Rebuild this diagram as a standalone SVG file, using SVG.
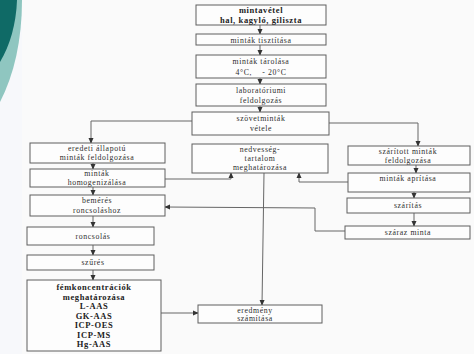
<svg xmlns="http://www.w3.org/2000/svg" width="474" height="354" viewBox="0 0 474 354">
<style>
.box{fill:#fdfdfd;stroke:#5e5e5e;stroke-width:1}
.t{font-family:"Liberation Serif",serif;font-size:7.8px;fill:#2e2e2e;text-anchor:middle;letter-spacing:0.6px}
.b{font-weight:bold;font-size:8.5px;fill:#222}
.ln{fill:none;stroke:#666;stroke-width:1}
</style>
<defs>
<marker id="ar" viewBox="0 0 8 8" refX="7" refY="4" markerWidth="6" markerHeight="6" orient="auto" markerUnits="userSpaceOnUse">
<path d="M0,0.5 L8,4 L0,7.5 Z" fill="#333"/>
</marker>
</defs>
<rect width="474" height="354" fill="#f7f8fb"/>
<rect x="22" y="0" width="452" height="354" fill="#fafafa"/>
<path d="M0,0 L22,0 C22,40 14,75 0,102 Z" fill="#8fc6c0"/>
<path d="M0,0 L17,0 C16,25 10,45 0,62 Z" fill="#0f6a66"/>

<g id="connectors" class="ln">
<line x1="260" y1="25" x2="260" y2="34" marker-end="url(#ar)"/>
<line x1="260" y1="45" x2="260" y2="55" marker-end="url(#ar)"/>
<line x1="260" y1="78" x2="260" y2="84" marker-end="url(#ar)"/>
<line x1="260" y1="106" x2="260" y2="112" marker-end="url(#ar)"/>
<polyline points="192,121 91,121 91,143" marker-end="url(#ar)"/>
<polyline points="329,123 418,123 418,146" marker-end="url(#ar)"/>
<line x1="93" y1="163" x2="93" y2="169" marker-end="url(#ar)"/>
<line x1="93" y1="187" x2="93" y2="195" marker-end="url(#ar)"/>
<line x1="93" y1="216" x2="93" y2="227" marker-end="url(#ar)"/>
<line x1="93" y1="245" x2="93" y2="255" marker-end="url(#ar)"/>
<line x1="93" y1="270" x2="93" y2="280" marker-end="url(#ar)"/>
<line x1="416" y1="165" x2="416" y2="173" marker-end="url(#ar)"/>
<line x1="414" y1="192" x2="414" y2="198" marker-end="url(#ar)"/>
<line x1="414" y1="213" x2="414" y2="226" marker-end="url(#ar)"/>
<polyline points="165,179 231,179 231,173" marker-end="url(#ar)"/>
<polyline points="348,182 299,182 299,173" marker-end="url(#ar)"/>
<polyline points="345,231 315,231 315,208 165,207" marker-end="url(#ar)"/>
<line x1="264" y1="173" x2="262" y2="305" marker-end="url(#ar)"/>
<line x1="161" y1="313" x2="198" y2="313" marker-end="url(#ar)"/>
</g>

<g id="n1"><rect class="box" x="196" y="5" width="130" height="20"/>
<text class="t b" x="261" y="13">mintavétel</text><text class="t b" x="261" y="23">hal, kagyló, giliszta</text></g>
<g id="n2"><rect class="box" x="196" y="34" width="130" height="11"/>
<text class="t" x="261" y="42.5">minták tisztítása</text></g>
<g id="n3"><rect class="box" x="196" y="55" width="130" height="23"/>
<text class="t" x="261" y="64">minták tárolása</text><text class="t" x="261" y="75">4°C,&#160;&#160;&#160; - 20°C</text></g>
<g id="n4"><rect class="box" x="196" y="84" width="130" height="22"/>
<text class="t" x="261" y="93">laboratóriumi</text><text class="t" x="261" y="103">feldolgozás</text></g>
<g id="n5"><rect class="box" x="192" y="112" width="137" height="23"/>
<text class="t" x="261" y="121">szövetminták</text><text class="t" x="261" y="131">vétele</text></g>

<g id="l1"><rect class="box" x="30" y="143" width="135" height="20"/>
<text class="t" x="97" y="151">eredeti állapotú</text><text class="t" x="97" y="160">minták feldolgozása</text></g>
<g id="l2"><rect class="box" x="30" y="169" width="135" height="18"/>
<text class="t" x="97" y="176">minták</text><text class="t" x="97" y="185">homogenizálása</text></g>
<g id="l3"><rect class="box" x="30" y="195" width="135" height="21"/>
<text class="t" x="97" y="203">bemérés</text><text class="t" x="97" y="213">roncsoláshoz</text></g>
<g id="l4"><rect class="box" x="27" y="227" width="127" height="18"/>
<text class="t" x="93" y="239">roncsolás</text></g>
<g id="l5"><rect class="box" x="27" y="255" width="127" height="15"/>
<text class="t" x="93" y="265">szűrés</text></g>
<g id="l6"><rect class="box" x="27" y="280" width="134" height="71"/>
<text class="t b" x="94" y="290">fémkoncentrációk</text>
<text class="t b" x="94" y="299.5">meghatározása</text>
<text class="t b" x="94" y="309">L-AAS</text>
<text class="t b" x="94" y="318.5">GK-AAS</text>
<text class="t b" x="94" y="328">ICP-OES</text>
<text class="t b" x="94" y="337.5">ICP-MS</text>
<text class="t b" x="94" y="347">Hg-AAS</text></g>

<g id="m1"><rect class="box" x="192" y="144" width="136" height="29"/>
<text class="t" x="260" y="152">nedvesség-</text><text class="t" x="260" y="161">tartalom</text><text class="t" x="260" y="170">meghatározása</text></g>
<g id="m2"><rect class="box" x="198" y="305" width="124" height="18"/>
<text class="t" x="255" y="312.5">eredmény</text><text class="t" x="255" y="321">számítása</text></g>

<g id="r1"><rect class="box" x="348" y="146" width="122" height="19"/>
<text class="t" x="408" y="154">szárított minták</text><text class="t" x="408" y="163">feldolgozása</text></g>
<g id="r2"><rect class="box" x="348" y="173" width="122" height="19"/>
<text class="t" x="408" y="181">minták aprítása</text></g>
<g id="r3"><rect class="box" x="347" y="198" width="123" height="15"/>
<text class="t" x="408" y="208">szárítás</text></g>
<g id="r4"><rect class="box" x="345" y="226" width="125" height="13"/>
<text class="t" x="408" y="235">száraz minta</text></g>
</svg>
